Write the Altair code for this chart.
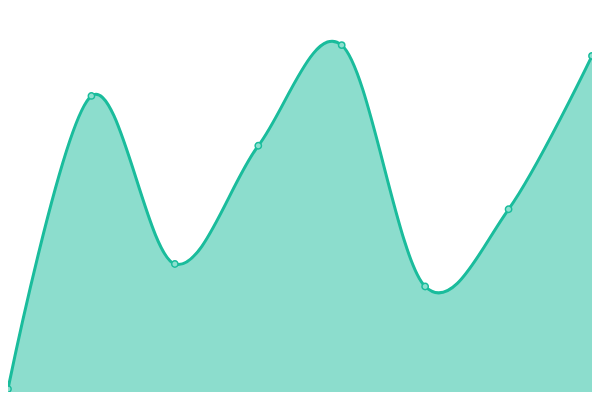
import altair as alt
import pandas as pd

idx = [0, 1, 2, 3, 4, 5, 6, 7]
values = [3, 303, 131, 252, 355, 108, 187, 344]

df = pd.DataFrame({"i": idx, "v": values})

x = alt.X("i:Q", scale=alt.Scale(domain=[0, 7], nice=False, zero=False), axis=None)
y = alt.Y("v:Q", scale=alt.Scale(domain=[0, 393], nice=False), axis=None)

area = alt.Chart(df).mark_area(
    interpolate="cardinal",
    color="#1abc9c",
    fillOpacity=0.5,
    line={"color": "#1abc9c", "strokeWidth": 3},
).encode(x=x, y=y)

pts = alt.Chart(df).mark_point(
    filled=True,
    size=40,
    fill="#8de0cf",
    stroke="#1abc9c",
    strokeWidth=1.5,
    opacity=1,
).encode(x=x, y=y)

chart = (area + pts).properties(
    width=584, height=384, padding=0,
    autosize=alt.AutoSizeParams(type="none"),
).configure_view(stroke=None, clip=False)

chart.save("out.html", embed_options={"renderer": "svg", "actions": False})
